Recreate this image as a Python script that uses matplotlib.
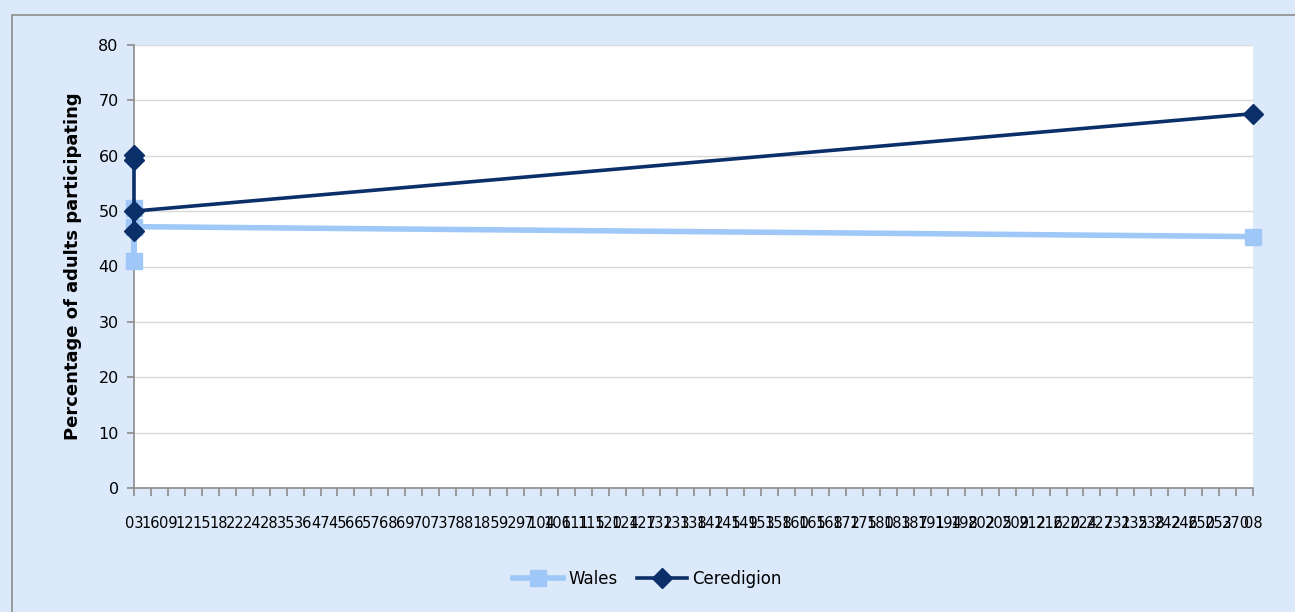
import matplotlib.pyplot as plt
from matplotlib.patches import Rectangle

# survey points (x = position on the category axis)
wales_x = [0, 0, 0, 66]
wales_pct = [50.5, 41.0, 47.2, 45.4]
ceredigion_x = [0, 0, 0, 0, 66]
ceredigion_pct = [59.2, 60.1, 46.5, 50.0, 67.6]

# crowded category labels along the bottom axis
x_labels = ['03', '16', '09', '12', '15', '18', '22', '24', '28', '35', '36', '47',
            '45', '66', '57', '68', '69', '70', '73', '78', '81', '85', '92',
            '97', '104', '106', '111', '115', '120', '124', '127', '132',
            '133', '138', '142', '145', '149', '153', '158', '160', '165',
            '168', '172', '175', '180', '183', '187', '191', '194', '198',
            '202', '205', '209', '212', '216', '220', '224', '227', '231',
            '235', '238', '242', '246', '250', '253', '270', '08']

bg = '#dce9fb'
wales_col = '#9fc8f8'
cered_col = '#0b2f69'

fig = plt.figure(figsize=(12.95, 6.12), dpi=100, facecolor=bg)
fig.patches.append(Rectangle((12 / 1295, -0.05), 1.0, 1.05 - 15 / 612, transform=fig.transFigure,
                             fill=False, edgecolor='#8c8c8c', linewidth=1.2))

ax = fig.add_axes([134 / 1295, 1 - 488 / 612, (1253 - 134) / 1295, (488 - 45) / 612])
ax.set_facecolor('white')

ax.plot(wales_x, wales_pct, color=wales_col, linewidth=4, marker='s',
        markersize=12, label='Wales', zorder=3, clip_on=False)
ax.plot(ceredigion_x, ceredigion_pct, color=cered_col, linewidth=2.6, marker='D',
        markersize=10, label='Ceredigion', zorder=4, clip_on=False)

ax.set_xlim(0, 66)
ax.set_ylim(0, 80)
ax.set_yticks(range(0, 81, 10))
ax.set_xticks(range(len(x_labels)))
ax.set_xticklabels(x_labels, fontsize=10.5)
ax.tick_params(axis='x', length=6, color='#8c8c8c', width=1.2, pad=14)
ax.tick_params(axis='y', length=5, color='#8c8c8c', width=1.2, labelsize=11.5, pad=6)

ax.grid(axis='y', color='#d9d9d9', linewidth=1)
ax.set_axisbelow(True)
for side in ['top', 'right']:
    ax.spines[side].set_visible(False)
for side in ['left', 'bottom']:
    ax.spines[side].set_color('#8c8c8c')
    ax.spines[side].set_linewidth(1.2)

ax.set_ylabel('Percentage of adults participating', fontsize=13, fontweight='bold', labelpad=12)

fig.legend(loc='center', bbox_to_anchor=(0.5, 1 - 579 / 612), ncol=2, frameon=False,
           fontsize=12, handlelength=3, columnspacing=1.2, handletextpad=0.3)

fig.savefig('out.png', dpi=100, facecolor=bg)
